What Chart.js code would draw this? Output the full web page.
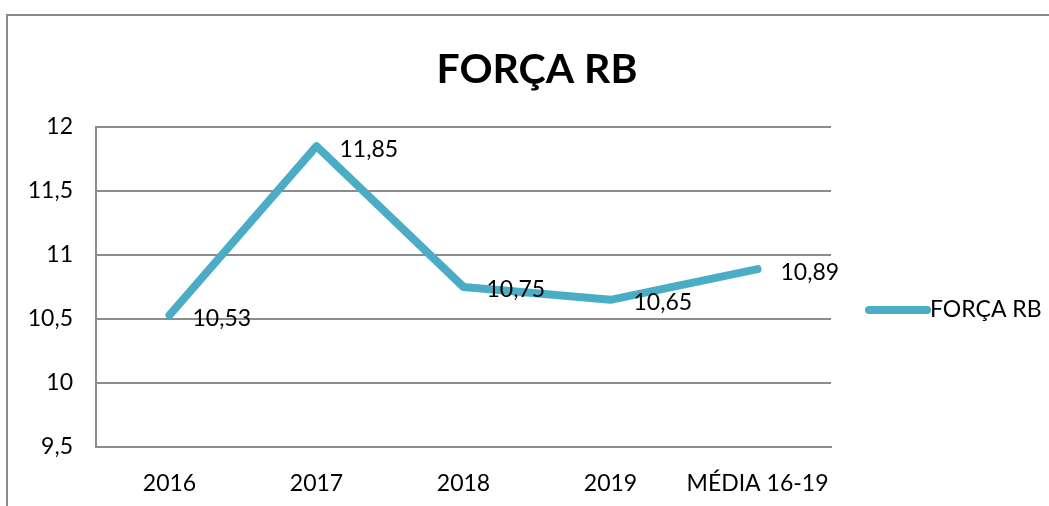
<!DOCTYPE html>
<html>
<head>
<meta charset="utf-8">
<script src="https://cdn.jsdelivr.net/npm/chart.js@4.4.0/dist/chart.umd.min.js"></script>
<style>
  html, body { margin: 0; padding: 0; background: #fff; }
  #wrap { width: 1049px; height: 506px; position: relative; }
</style>
</head>
<body>
<div id="wrap"><canvas id="chart"></canvas></div>
<script>
// chart data
const categories = ['2016', '2017', '2018', '2019', 'MÉDIA 16-19'];
const forcaRB = [10.53, 11.85, 10.75, 10.65, 10.89];
const seriesName = 'FORÇA RB';
const yTicks = [9.5, 10, 10.5, 11, 11.5, 12];

const lineColor = '#4BACC6';
const gridColor = '#8c8c8c';
const fontFamily = 'Lato, "Open Sans", sans-serif';
const textSize = 23;

function fmt(v) {
    return String(v).replace('.', ',');
}

// outer frame of the chart object (only left and top edges are visible) + title
const framePlugin = {
    id: 'frame',
    beforeDraw(chart) {
        const ctx = chart.ctx;
        ctx.save();
        ctx.strokeStyle = '#8a8a8a';
        ctx.lineWidth = 2;
        ctx.beginPath();
        ctx.moveTo(7, chart.height);
        ctx.lineTo(7, 15);
        ctx.lineTo(chart.width, 15);
        ctx.stroke();

        ctx.font = 'bold 41px ' + fontFamily;
        ctx.fillStyle = '#000';
        ctx.textAlign = 'center';
        ctx.textBaseline = 'middle';
        ctx.fillText(seriesName, 537, 70);
        ctx.restore();
    }
};

// value labels to the right of each point
const valueLabels = {
    id: 'valueLabels',
    afterDatasetsDraw(chart) {
        const ctx = chart.ctx;
        const meta = chart.getDatasetMeta(0);
        ctx.save();
        ctx.font = textSize + 'px ' + fontFamily;
        ctx.fillStyle = '#000';
        ctx.textAlign = 'left';
        ctx.textBaseline = 'middle';
        meta.data.forEach(function(pt, i) {
            ctx.fillText(fmt(forcaRB[i]), pt.x + 23, pt.y + 3);
        });
        ctx.restore();
    }
};

// legend on the right side
const sideLegend = {
    id: 'sideLegend',
    afterDraw(chart) {
        const ctx = chart.ctx;
        const area = chart.chartArea;
        const x0 = area.right + 38;
        const y = 310;
        ctx.save();
        ctx.strokeStyle = lineColor;
        ctx.lineWidth = 8;
        ctx.lineCap = 'round';
        ctx.beginPath();
        ctx.moveTo(x0, y);
        ctx.lineTo(x0 + 58, y);
        ctx.stroke();
        ctx.font = textSize + 'px ' + fontFamily;
        ctx.fillStyle = '#000';
        ctx.textAlign = 'left';
        ctx.textBaseline = 'middle';
        ctx.fillText(seriesName, x0 + 61, y);
        ctx.restore();
    }
};

new Chart(document.getElementById('chart'), {
    type: 'line',
    data: {
        labels: categories,
        datasets: [{
            label: seriesName,
            data: forcaRB,
            borderColor: lineColor,
            backgroundColor: lineColor,
            borderWidth: 8,
            borderCapStyle: 'round',
            borderJoinStyle: 'round',
            pointRadius: 0,
            tension: 0
        }]
    },
    options: {
        responsive: true,
        maintainAspectRatio: false,
        animation: false,
        layout: {
            padding: { left: 0, right: 218, top: 127, bottom: 0 }
        },
        plugins: {
            legend: { display: false },
            tooltip: { enabled: false },
            title: { display: false }
        },
        scales: {
            x: {
                offset: true,
                grid: { display: false, drawTicks: false },
                border: { display: true, color: gridColor, width: 2 },
                ticks: {
                    color: '#000',
                    font: { family: fontFamily, size: textSize },
                    padding: 23,
                    maxRotation: 0
                },
                afterFit(scale) { scale.height = 59; }
            },
            y: {
                min: 9.5,
                max: 12,
                afterBuildTicks(scale) {
                    scale.ticks = yTicks.map(v => ({ value: v }));
                },
                grid: { color: gridColor, lineWidth: 2, drawTicks: false },
                border: { display: true, color: gridColor, width: 2 },
                ticks: {
                    color: '#000',
                    font: { family: fontFamily, size: textSize },
                    padding: 23,
                    callback: v => fmt(v)
                },
                afterFit(scale) { scale.width = 96; }
            }
        }
    },
    plugins: [framePlugin, valueLabels, sideLegend]
});
</script>
</body>
</html>
